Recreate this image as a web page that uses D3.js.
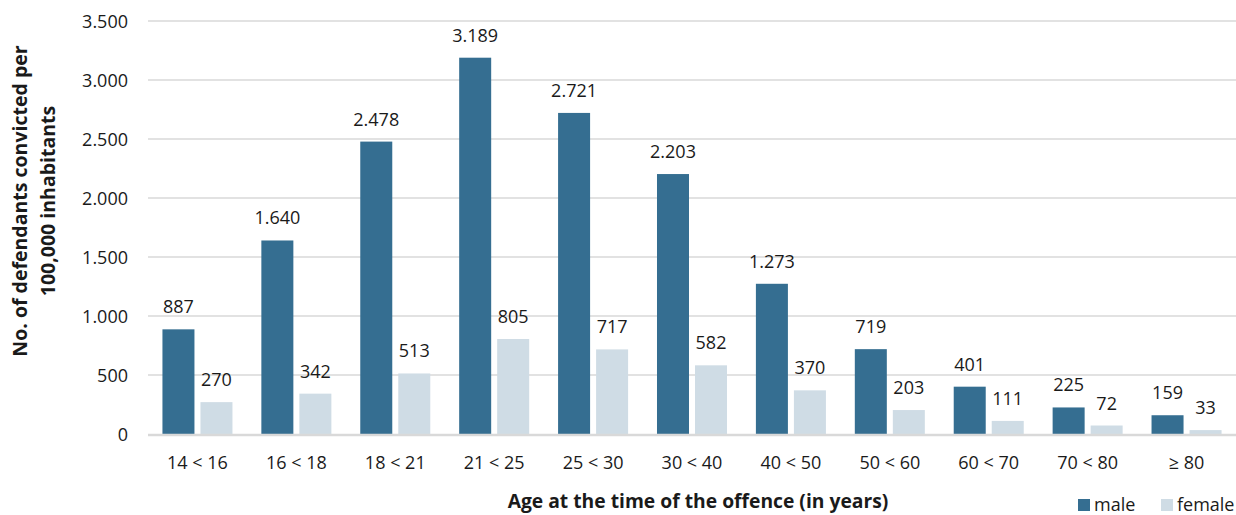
<!DOCTYPE html>
<html><head><meta charset="utf-8">
<script src="https://cdn.jsdelivr.net/npm/d3@7"></script>
<style>body{margin:0;background:#fff}svg{display:block}text{font-family:"Open Sans",sans-serif}</style>
</head><body><svg id="c" width="1236" height="515"></svg>
<script>
const categories = ["14 < 16","16 < 18","18 < 21","21 < 25","25 < 30","30 < 40","40 < 50","50 < 60","60 < 70","70 < 80","≥ 80"];
const maleValues = [887,1640,2478,3189,2721,2203,1273,719,401,225,159];
const femaleValues = [270,342,513,805,717,582,370,203,111,72,33];
const yTicks = [0,500,1000,1500,2000,2500,3000,3500];
const seriesNames = ["male","female"];
const colors = {male:"#356e91", female:"#cfdce5"};

const svg = d3.select("#c");
const L = 148, R = 1236, T = 21, B = 434;
const fmt = v => d3.format(",")(v).replace(/,/g,".");
const FS = 18;

const x = d3.scaleBand().domain(categories).range([L,R]).paddingInner(0).paddingOuter(0);
const xs = d3.scaleBand().domain(seriesNames).range([0,x.bandwidth()]).paddingInner(0.158).paddingOuter(0.38);
const y = d3.scaleLinear().domain([0,3500]).range([B,T]);

// gridlines
svg.append("g").selectAll("line").data(yTicks.filter(d=>d>0)).join("line")
  .attr("x1",L).attr("x2",R).attr("y1",d=>y(d)).attr("y2",d=>y(d))
  .attr("stroke","#d9d9d9").attr("stroke-width",1.5);

// y axis labels
const yAxis = d3.axisLeft(y).tickValues(yTicks).tickFormat(fmt).tickSize(0).tickPadding(0);
const yg = svg.append("g").attr("transform",`translate(${L-20},0)`).call(yAxis);
yg.select(".domain").remove();
yg.selectAll("text").attr("font-size",FS).attr("fill","#1a1a1a").attr("font-family","Open Sans").attr("dy","0.35em");

// bars
const data = categories.map((c,i)=>({c, male:maleValues[i], female:femaleValues[i]}));
const grp = svg.append("g").selectAll("g").data(data).join("g").attr("transform",d=>`translate(${x(d.c)},0)`);
seriesNames.forEach(s=>{
  grp.append("rect").attr("x",xs(s)).attr("width",xs.bandwidth())
    .attr("y",d=>y(d[s])).attr("height",d=>y(0)-y(d[s])).attr("fill",colors[s]);
  grp.append("text").attr("x",xs(s)+xs.bandwidth()/2).attr("y",d=>y(d[s])-16)
    .attr("text-anchor","middle").attr("font-size",FS).attr("fill","#1a1a1a").text(d=>fmt(d[s]));
});

// baseline
svg.append("line").attr("x1",L).attr("x2",R).attr("y1",B+1).attr("y2",B+1).attr("stroke","#d9d9d9").attr("stroke-width",2.5);

// x axis labels
const xAxis = d3.axisBottom(x).tickSize(0).tickPadding(0);
const xg = svg.append("g").attr("transform",`translate(0,${B})`).call(xAxis);
xg.select(".domain").remove();
xg.selectAll("text").attr("font-size",FS).attr("fill","#1a1a1a").attr("font-family","Open Sans").attr("dy",null).attr("y",35);

// axis titles
svg.append("text").attr("x",698).attr("y",508).attr("text-anchor","middle").attr("font-size",19.3).attr("font-weight","bold").attr("fill","#1a1a1a")
  .text("Age at the time of the offence (in years)");
const yt = svg.append("text").attr("transform","translate(0,201) rotate(-90)").attr("text-anchor","middle").attr("font-size",19.5).attr("font-weight","bold").attr("fill","#1a1a1a");
yt.append("tspan").attr("x",0).attr("y",27).text("No. of defendants convicted per");
yt.append("tspan").attr("x",0).attr("y",55).text("100,000 inhabitants");

// legend
const leg = svg.append("g");
const legPos = [{s:"male",x:1078},{s:"female",x:1161}];
legPos.forEach(p=>{
  leg.append("rect").attr("x",p.x).attr("y",499).attr("width",12).attr("height",12).attr("fill",colors[p.s]);
  leg.append("text").attr("x",p.x+16).attr("y",511).attr("font-size",FS).attr("fill","#1a1a1a").text(p.s);
});
</script></body></html>
